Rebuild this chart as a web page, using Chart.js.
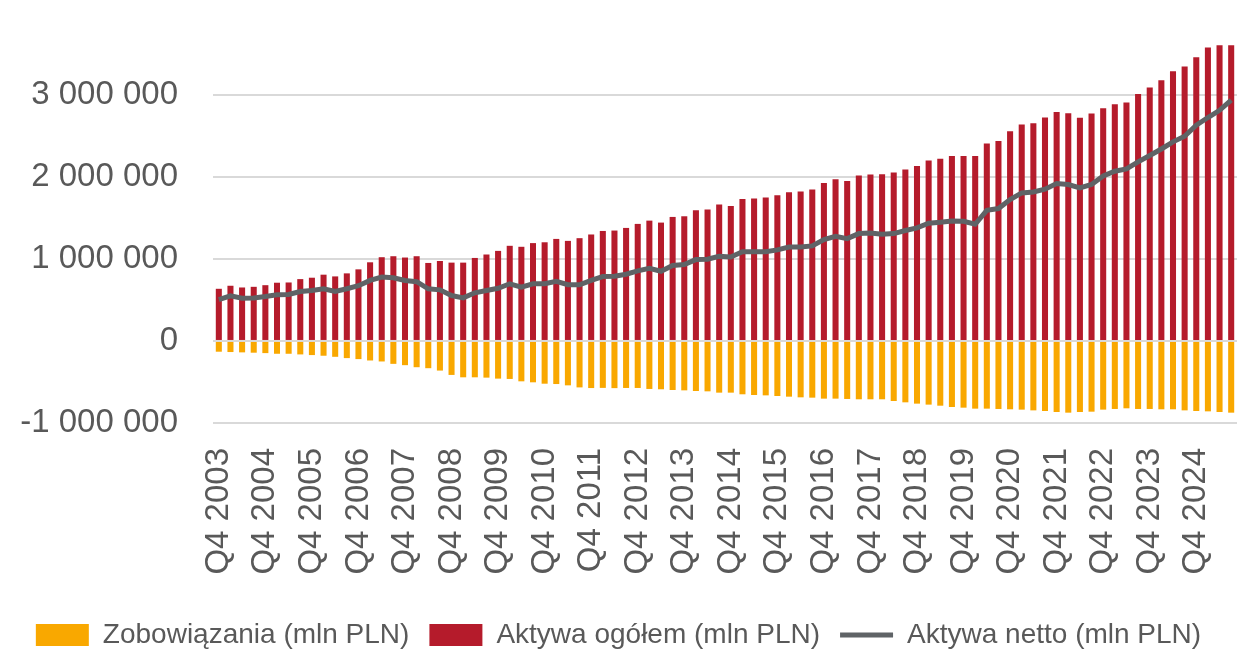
<!DOCTYPE html>
<html lang="pl">
<head>
<meta charset="utf-8">
<script src="https://cdn.jsdelivr.net/npm/chart.js@4.4.1/dist/chart.umd.min.js"></script>
<style>
  html, body { margin: 0; padding: 0; background: #fff; overflow: hidden; }
</style>
</head>
<body>
<canvas id="wykres" width="1237" height="659"></canvas>
<script>
// dane kwartalne Q4 2003 - Q3 2025, mln PLN
const kwartaly = [];
for (let i = 0; i < 88; i++) {
  const q = (3 + i) % 4 + 1;
  const rok = 2003 + Math.floor((3 + i) / 4);
  kwartaly.push("Q" + q + " " + rok);
}

const aktywaOgolem = [
  636000, 673000, 652000, 660000, 680000, 710000, 713000, 754000, 771000, 808000,
  787000, 824000, 873000, 959000, 1021000, 1033000, 1017000, 1033000, 951000, 975000,
  955000, 955000, 1012000, 1054000, 1098000, 1160000, 1148000, 1193000, 1203000, 1244000,
  1220000, 1253000, 1298000, 1341000, 1346000, 1378000, 1427000, 1467000, 1443000, 1512000,
  1520000, 1593000, 1602000, 1663000, 1646000, 1732000, 1736000, 1748000, 1776000, 1813000,
  1821000, 1846000, 1927000, 1972000, 1951000, 2016000, 2028000, 2033000, 2053000, 2089000,
  2134000, 2199000, 2220000, 2256000, 2256000, 2256000, 2407000, 2437000, 2557000, 2639000,
  2655000, 2724000, 2791000, 2777000, 2720000, 2773000, 2838000, 2887000, 2907000, 3012000,
  3090000, 3179000, 3289000, 3346000, 3460000, 3578000, 3606000, 3606000
];

const zobowiazania = [
  -131000, -135000, -139000, -143000, -148000, -156000, -156000, -164000, -172000, -180000,
  -193000, -209000, -221000, -238000, -250000, -279000, -295000, -320000, -332000, -361000,
  -414000, -443000, -443000, -447000, -459000, -463000, -492000, -504000, -521000, -525000,
  -541000, -566000, -574000, -572000, -575000, -573000, -573000, -585000, -589000, -598000,
  -602000, -610000, -614000, -630000, -630000, -650000, -659000, -663000, -671000, -679000,
  -687000, -691000, -703000, -703000, -707000, -711000, -711000, -711000, -732000, -748000,
  -764000, -776000, -789000, -805000, -813000, -825000, -825000, -829000, -833000, -837000,
  -846000, -854000, -866000, -874000, -866000, -862000, -837000, -829000, -821000, -829000,
  -829000, -833000, -833000, -846000, -854000, -858000, -866000, -874000
];

const aktywaNetto = [
  504000, 550000, 520000, 525000, 541000, 562000, 566000, 603000, 615000, 636000,
  603000, 636000, 673000, 738000, 779000, 771000, 738000, 722000, 636000, 623000,
  554000, 525000, 587000, 615000, 643000, 697000, 656000, 697000, 697000, 726000,
  685000, 685000, 738000, 785000, 790000, 813000, 854000, 886000, 850000, 919000,
  931000, 992000, 996000, 1033000, 1024000, 1089000, 1089000, 1089000, 1110000, 1146000,
  1146000, 1159000, 1236000, 1276000, 1248000, 1309000, 1317000, 1301000, 1309000, 1346000,
  1378000, 1435000, 1447000, 1463000, 1459000, 1423000, 1593000, 1614000, 1724000, 1805000,
  1817000, 1850000, 1919000, 1907000, 1866000, 1907000, 2012000, 2069000, 2098000, 2183000,
  2260000, 2340000, 2427000, 2496000, 2630000, 2724000, 2812000, 2935000
];

const osY = [-1000000, 0, 1000000, 2000000, 3000000];

const kolorZolty = "#F9A800";
const kolorCzerwony = "#B51B2B";
const kolorSzary = "#5F6366";
const kolorTekstu = "#595959";

function formatuj(v) {
  return String(v).replace(/\B(?=(\d{3})+(?!\d))/g, " ");
}

const ctx = document.getElementById("wykres").getContext("2d");

new Chart(ctx, {
  type: "bar",
  data: {
    labels: kwartaly,
    datasets: [
      {
        label: "Zobowiązania (mln PLN)",
        data: zobowiazania,
        backgroundColor: kolorZolty,
        borderWidth: 0,
        order: 2
      },
      {
        label: "Aktywa ogółem (mln PLN)",
        data: aktywaOgolem,
        backgroundColor: kolorCzerwony,
        borderWidth: 0,
        order: 1
      },
      {
        type: "line",
        label: "Aktywa netto (mln PLN)",
        data: aktywaNetto,
        borderColor: kolorSzary,
        backgroundColor: kolorSzary,
        borderWidth: 5,
        pointRadius: 0,
        tension: 0,
        order: 0
      }
    ]
  },
  options: {
    responsive: false,
    animation: false,
    devicePixelRatio: 1,
    barPercentage: 0.52,
    categoryPercentage: 1,
    layout: { padding: { top: 44, left: 0, right: 0, bottom: 0 } },
    scales: {
      x: {
        stacked: true,
        grid: { display: false, drawTicks: false },
        border: { display: false },
        ticks: {
          autoSkip: false,
          maxRotation: 90,
          minRotation: 90,
          padding: 25,
          color: kolorTekstu,
          font: { family: "'Liberation Sans', Arial, sans-serif", size: 33 },
          callback: function (val, i) {
            return i % 4 === 0 ? this.getLabelForValue(val) : null;
          }
        },
        afterFit: (scale) => {
          scale.height = 178;
          scale.paddingLeft = 0;
          scale.paddingRight = 0;
        }
      },
      y: {
        min: -1000000,
        max: 3620000,
        grid: { color: "#D9D9D9", lineWidth: 2, drawTicks: false },
        border: { display: false },
        ticks: {
          padding: 35,
          color: kolorTekstu,
          font: { family: "'Liberation Sans', Arial, sans-serif", size: 33 },
          callback: (v) => formatuj(v)
        },
        afterBuildTicks: (scale) => {
          scale.ticks = osY.map(v => ({ value: v }));
        },
        afterFit: (scale) => {
          scale.width = 213;
          scale.paddingTop = 0;
          scale.paddingBottom = 0;
        }
      }
    },
    plugins: {
      tooltip: { enabled: false },
      legend: {
        position: "bottom",
        labels: {
          usePointStyle: true,
          pointStyleWidth: 53,
          boxHeight: 22,
          padding: 20,
          color: kolorTekstu,
          font: { family: "'Liberation Sans', Arial, sans-serif", size: 28 },
          generateLabels: (chart) => {
            const items = Chart.defaults.plugins.legend.labels.generateLabels(chart);
            items.forEach(it => {
              if (it.datasetIndex === 2) {
                it.pointStyle = "line";
                it.lineWidth = 5;
                it.strokeStyle = kolorSzary;
              } else {
                it.pointStyle = "rect";
                it.lineWidth = 0;
              }
            });
            return items.sort((a, b) => a.datasetIndex - b.datasetIndex);
          }
        }
      }
    }
  }
});
</script>
</body>
</html>
